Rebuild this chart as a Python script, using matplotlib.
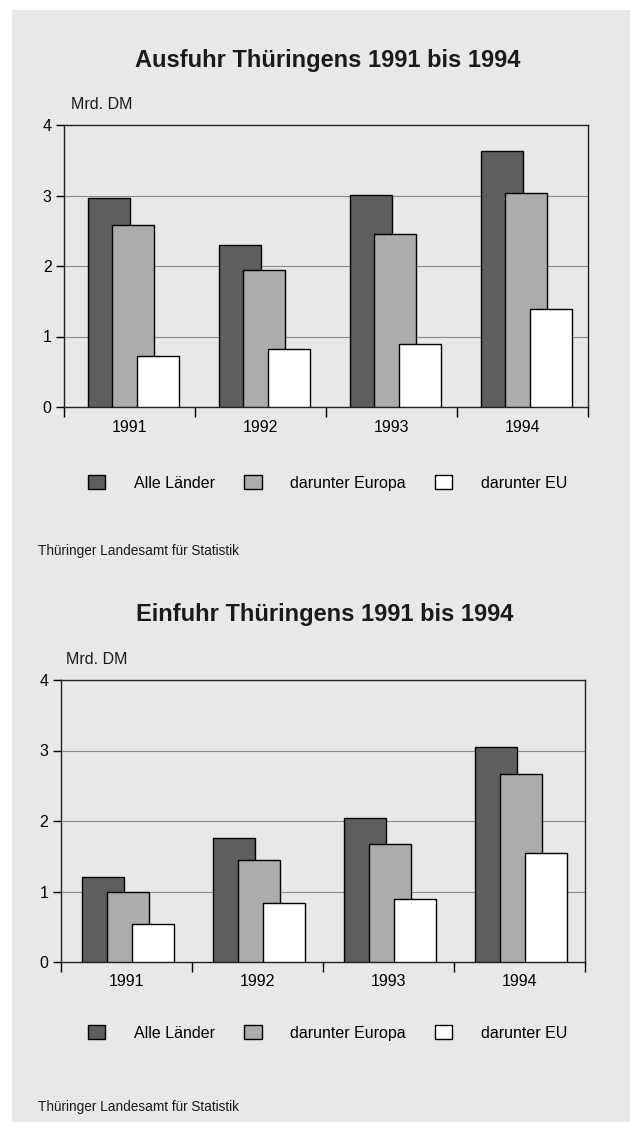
import matplotlib.pyplot as plt
from matplotlib.patches import Rectangle
import numpy as np

plt.rcParams['font.family'] = ['Liberation Sans', 'DejaVu Sans']

years = ['1991', '1992', '1993', '1994']
series = ['Alle Länder', 'darunter Europa', 'darunter EU']
ausfuhr_alle = [2.96, 2.30, 3.01, 3.63]
ausfuhr_europa = [2.58, 1.94, 2.45, 3.04]
ausfuhr_eu = [0.72, 0.82, 0.89, 1.39]
einfuhr_alle = [1.20, 1.76, 2.04, 3.05]
einfuhr_europa = [0.99, 1.45, 1.68, 2.67]
einfuhr_eu = [0.54, 0.84, 0.89, 1.55]

colors = ['#5e5e5e', '#acacaa', '#ffffff']
page = '#e8e8e6'

fig = plt.figure(figsize=(6.3, 11.22), dpi=100)
fig.patch.set_facecolor('white')
fig.patches.append(Rectangle((12/630, 0), 1, 1 - 10/1122, transform=fig.transFigure,
                             facecolor=page, edgecolor='none', zorder=-10))


def panel(rect, title, title_xy, vals, legend_y, source_y, mrd_x, shift):
    ax = fig.add_axes(rect)
    ax.set_facecolor(page)
    x = np.arange(len(years))
    offs = [-0.19 + shift, shift, 0.19 + shift]
    bars = []
    for i, v in enumerate(vals):
        b = ax.bar(x + offs[i], v, width=0.32, color=colors[i], edgecolor='black',
                   linewidth=1.0, zorder=3 + i, label=series[i])
        bars.append(b)
    ax.set_xlim(-0.5, 3.5)
    ax.set_ylim(0, 4)
    ax.set_yticks([0, 1, 2, 3, 4])
    ax.set_yticklabels(['0', '1', '2', '3', '4'], fontsize=11.5)
    for yv in [1, 2, 3]:
        ax.axhline(yv, color='#8a8a8a', linewidth=0.8, zorder=1)
    ax.set_xticks([-0.5, 0.5, 1.5, 2.5, 3.5])
    ax.set_xticklabels([])
    ax.set_xticks(x, minor=True)
    ax.set_xticklabels(years, minor=True, fontsize=11.5)
    ax.tick_params(axis='x', which='minor', length=0, pad=9)
    ax.tick_params(axis='x', which='major', length=7, width=1.0, direction='out')
    ax.tick_params(axis='y', length=6, width=1.0, direction='out', pad=3)
    for s in ax.spines.values():
        s.set_linewidth(1.0)
        s.set_color('#222222')
    fig.text(title_xy[0], title_xy[1], title, ha='center', va='center', fontsize=17,
             fontweight='bold', color='#1a1a1a')
    fig.text(mrd_x, rect[1] + rect[3] + 0.012, 'Mrd. DM', ha='left', va='bottom',
             fontsize=11.5, color='#1a1a1a')
    fig.legend(handles=bars, labels=series, loc='center', ncol=3, frameon=False,
               bbox_to_anchor=(0.52, legend_y), fontsize=11.5, handlelength=1.1,
               handleheight=1.0, handletextpad=1.8, columnspacing=1.8)
    fig.text(38/630, source_y, 'Thüringer Landesamt für Statistik', ha='left',
             va='center', fontsize=9.8, color='#1a1a1a')
    return ax


panel([64/630, 1 - 407/1122, 524/630, 282/1122], 'Ausfuhr Thüringens 1991 bis 1994',
      (328/630, 1 - 60/1122), [ausfuhr_alle, ausfuhr_europa, ausfuhr_eu], 1 - 483/1122,
      1 - 551/1122, 71/630, 0.03)
panel([61/630, 1 - 962/1122, 524/630, 282/1122], 'Einfuhr Thüringens 1991 bis 1994',
      (325/630, 1 - 615/1122), [einfuhr_alle, einfuhr_europa, einfuhr_eu], 1 - 1033/1122,
      1 - 1107/1122, 66/630, 0.01)

fig.savefig('out.png', dpi=100, facecolor=fig.get_facecolor())
